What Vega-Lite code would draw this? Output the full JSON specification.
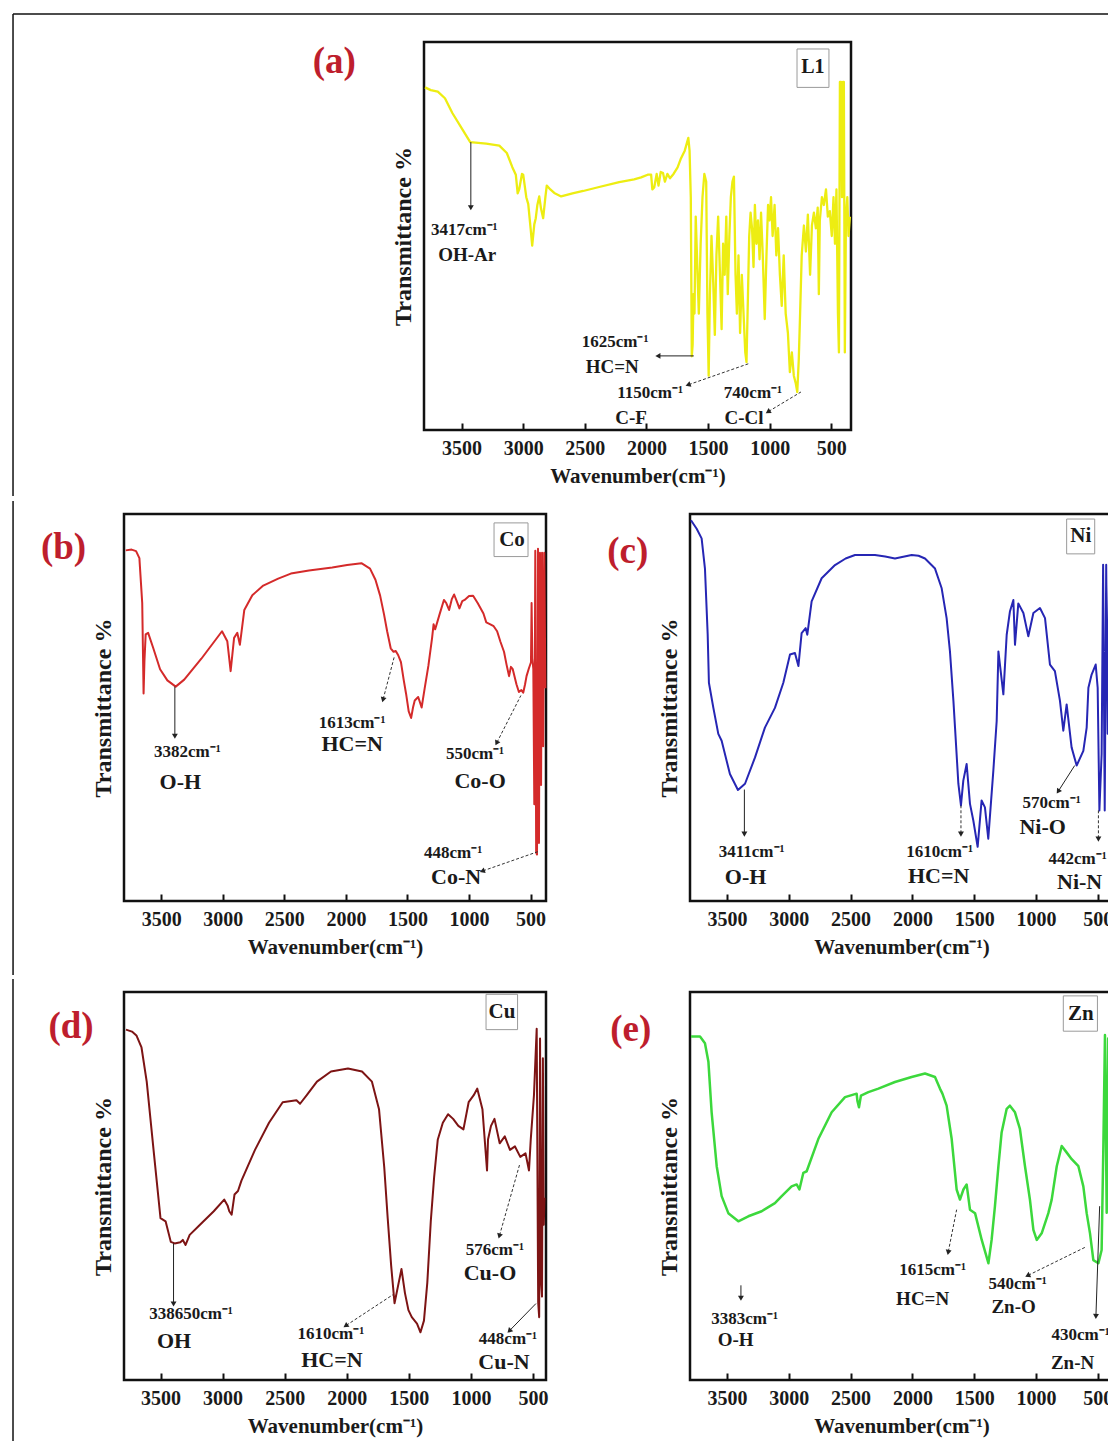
{
"$schema": "https://vega.github.io/schema/vega-lite/v6.json",
"background": "white",
"padding": {"left": 11, "top": 12, "right": 0, "bottom": 0},
"config": {
 "view": {"stroke": "#111", "strokeWidth": 2.5},
 "axis": {"grid": false, "labelFont": "Liberation Serif", "titleFont": "Liberation Serif", "labelFontWeight": "bold", "titleFontWeight": "bold", "labelColor": "#1a1a1a", "titleColor": "#1a1a1a"},
 "axisX": {"labelFontSize": 20, "titleFontSize": 21, "tickSize": -7, "tickWidth": 2, "tickColor": "#111", "domain": false, "labelPadding": 15, "titlePadding": 7, "labelFlush": false, "format": "d"},
 "axisY": {"titleFontSize": 24, "titlePadding": 9, "labels": false, "ticks": false, "domain": false},
 "text": {"font": "Liberation Serif", "fontWeight": "bold", "color": "#1a1a1a", "baseline": "middle", "align": "center"}
},
"datasets": {
 "L1": [{"wn":3797,"T":88.3},{"wn":3750,"T":87.6},{"wn":3693,"T":87.2},{"wn":3635,"T":85.5},{"wn":3575,"T":81.7},{"wn":3486,"T":77.1},{"wn":3430,"T":74.2},{"wn":3300,"T":73.8},{"wn":3194,"T":73.3},{"wn":3133,"T":71.4},{"wn":3089,"T":67.8},{"wn":3060,"T":65.8},{"wn":3045,"T":61},{"wn":3032,"T":62.1},{"wn":3010,"T":66},{"wn":3000,"T":65.8},{"wn":2975,"T":60},{"wn":2959,"T":58.2},{"wn":2940,"T":52},{"wn":2927,"T":47.5},{"wn":2910,"T":53},{"wn":2898,"T":54.6},{"wn":2885,"T":58},{"wn":2870,"T":60.2},{"wn":2855,"T":57},{"wn":2838,"T":54.6},{"wn":2820,"T":60},{"wn":2809,"T":63},{"wn":2780,"T":62},{"wn":2748,"T":61.1},{"wn":2692,"T":60.2},{"wn":2600,"T":61},{"wn":2513,"T":61.6},{"wn":2400,"T":62.5},{"wn":2221,"T":63.9},{"wn":2100,"T":64.6},{"wn":2043,"T":65.1},{"wn":1990,"T":65.8},{"wn":1962,"T":65.8},{"wn":1952,"T":62},{"wn":1937,"T":62.5},{"wn":1917,"T":66},{"wn":1902,"T":63},{"wn":1884,"T":66.5},{"wn":1865,"T":66.2},{"wn":1850,"T":64},{"wn":1830,"T":66},{"wn":1809,"T":64.9},{"wn":1780,"T":66},{"wn":1747,"T":67.7},{"wn":1720,"T":70},{"wn":1689,"T":72},{"wn":1660,"T":75.3},{"wn":1650,"T":72},{"wn":1640,"T":60},{"wn":1632,"T":19},{"wn":1625,"T":22},{"wn":1618,"T":35},{"wn":1610,"T":30},{"wn":1600,"T":55},{"wn":1590,"T":45},{"wn":1575,"T":30},{"wn":1560,"T":48},{"wn":1545,"T":60},{"wn":1530,"T":66},{"wn":1515,"T":64},{"wn":1505,"T":30},{"wn":1495,"T":14},{"wn":1485,"T":35},{"wn":1472,"T":50},{"wn":1458,"T":38},{"wn":1445,"T":24.5},{"wn":1432,"T":45},{"wn":1418,"T":55},{"wn":1403,"T":40},{"wn":1390,"T":26},{"wn":1378,"T":48},{"wn":1365,"T":40},{"wn":1352,"T":55},{"wn":1340,"T":35},{"wn":1327,"T":50},{"wn":1315,"T":60},{"wn":1302,"T":64},{"wn":1290,"T":65.3},{"wn":1277,"T":40},{"wn":1266,"T":30},{"wn":1253,"T":45},{"wn":1240,"T":25},{"wn":1226,"T":40},{"wn":1212,"T":30},{"wn":1198,"T":20},{"wn":1188,"T":17.5},{"wn":1176,"T":35},{"wn":1166,"T":50},{"wn":1155,"T":56},{"wn":1143,"T":52},{"wn":1131,"T":42},{"wn":1120,"T":58},{"wn":1107,"T":48},{"wn":1095,"T":54},{"wn":1082,"T":44},{"wn":1070,"T":56},{"wn":1056,"T":45},{"wn":1040,"T":28.6},{"wn":1026,"T":45},{"wn":1013,"T":58},{"wn":1001,"T":54},{"wn":989,"T":60},{"wn":976,"T":50},{"wn":960,"T":58},{"wn":946,"T":45},{"wn":932,"T":52},{"wn":917,"T":40},{"wn":902,"T":32},{"wn":886,"T":45},{"wn":870,"T":30},{"wn":852,"T":25},{"wn":836,"T":14.9},{"wn":820,"T":20},{"wn":804,"T":14},{"wn":788,"T":12},{"wn":776,"T":9.8},{"wn":764,"T":18},{"wn":753,"T":30},{"wn":740,"T":45},{"wn":722,"T":52.7},{"wn":706,"T":46},{"wn":690,"T":55.5},{"wn":672,"T":40},{"wn":657,"T":52.7},{"wn":641,"T":56},{"wn":625,"T":52},{"wn":610,"T":57.3},{"wn":601,"T":35},{"wn":593,"T":54},{"wn":576,"T":60},{"wn":560,"T":58},{"wn":543,"T":62},{"wn":528,"T":55},{"wn":512,"T":56.4},{"wn":496,"T":50},{"wn":482,"T":60},{"wn":470,"T":48},{"wn":458,"T":62},{"wn":446,"T":30},{"wn":438,"T":20},{"wn":430,"T":89.7},{"wn":421,"T":89.7},{"wn":413,"T":60},{"wn":405,"T":89.7},{"wn":398,"T":89.7},{"wn":390,"T":20},{"wn":381,"T":55},{"wn":370,"T":60},{"wn":360,"T":50},{"wn":349,"T":55}],
 "Co": [{"wn":3788,"T":90.6},{"wn":3740,"T":90.8},{"wn":3704,"T":90.4},{"wn":3677,"T":88.6},{"wn":3660,"T":80},{"wn":3654,"T":77},{"wn":3646,"T":60},{"wn":3643,"T":53.6},{"wn":3636,"T":62},{"wn":3626,"T":68.9},{"wn":3606,"T":69.3},{"wn":3564,"T":65.3},{"wn":3509,"T":59.9},{"wn":3450,"T":57},{"wn":3382,"T":55.4},{"wn":3313,"T":57.2},{"wn":3174,"T":62.6},{"wn":3006,"T":69.7},{"wn":2963,"T":67.1},{"wn":2936,"T":59.4},{"wn":2908,"T":68},{"wn":2882,"T":69.3},{"wn":2861,"T":66.2},{"wn":2825,"T":75.2},{"wn":2760,"T":79},{"wn":2671,"T":81.5},{"wn":2550,"T":83.3},{"wn":2447,"T":84.6},{"wn":2300,"T":85.4},{"wn":2111,"T":86.2},{"wn":1990,"T":86.8},{"wn":1874,"T":87.3},{"wn":1804,"T":85.9},{"wn":1760,"T":83},{"wn":1722,"T":78.9},{"wn":1690,"T":74},{"wn":1665,"T":69.7},{"wn":1636,"T":65.3},{"wn":1613,"T":64.4},{"wn":1595,"T":64.6},{"wn":1575,"T":63.5},{"wn":1553,"T":61.7},{"wn":1530,"T":57},{"wn":1511,"T":53.5},{"wn":1490,"T":49},{"wn":1470,"T":47.3},{"wn":1455,"T":50},{"wn":1441,"T":51.8},{"wn":1413,"T":52.7},{"wn":1395,"T":51},{"wn":1385,"T":50},{"wn":1360,"T":55},{"wn":1330,"T":60.8},{"wn":1300,"T":68},{"wn":1288,"T":71.5},{"wn":1275,"T":70.2},{"wn":1240,"T":74},{"wn":1204,"T":77.8},{"wn":1185,"T":77},{"wn":1162,"T":75.2},{"wn":1140,"T":78},{"wn":1121,"T":79.2},{"wn":1100,"T":77.5},{"wn":1078,"T":75.6},{"wn":1055,"T":77.5},{"wn":1036,"T":77.8},{"wn":1000,"T":78.8},{"wn":967,"T":78.9},{"wn":930,"T":77},{"wn":883,"T":74.3},{"wn":860,"T":72},{"wn":827,"T":71.5},{"wn":800,"T":71},{"wn":772,"T":69.7},{"wn":745,"T":67},{"wn":716,"T":64.4},{"wn":695,"T":61},{"wn":675,"T":58.1},{"wn":660,"T":60.5},{"wn":645,"T":59.9},{"wn":615,"T":56},{"wn":595,"T":54},{"wn":575,"T":54.5},{"wn":560,"T":53.8},{"wn":545,"T":56},{"wn":533,"T":58.1},{"wn":515,"T":60},{"wn":497,"T":61.7},{"wn":492,"T":77},{"wn":486,"T":62.7},{"wn":478,"T":60},{"wn":470,"T":25},{"wn":462,"T":90.5},{"wn":455,"T":12.5},{"wn":448,"T":12},{"wn":440,"T":91},{"wn":432,"T":15},{"wn":424,"T":90},{"wn":415,"T":30},{"wn":407,"T":90},{"wn":398,"T":40},{"wn":389,"T":90},{"wn":380,"T":55}],
 "Ni": [{"wn":3791,"T":98.4},{"wn":3745,"T":96.2},{"wn":3705,"T":93.7},{"wn":3678,"T":85.9},{"wn":3656,"T":68.9},{"wn":3646,"T":56.4},{"wn":3610,"T":49.9},{"wn":3570,"T":43.2},{"wn":3543,"T":41.4},{"wn":3476,"T":32.8},{"wn":3411,"T":28.7},{"wn":3354,"T":30.3},{"wn":3273,"T":37.1},{"wn":3193,"T":44.8},{"wn":3112,"T":49.9},{"wn":3044,"T":56.4},{"wn":2990,"T":63.7},{"wn":2950,"T":64.1},{"wn":2922,"T":60.7},{"wn":2896,"T":69.2},{"wn":2863,"T":70.5},{"wn":2850,"T":68.8},{"wn":2815,"T":77.4},{"wn":2734,"T":83.4},{"wn":2626,"T":86.8},{"wn":2540,"T":88.5},{"wn":2464,"T":89.4},{"wn":2303,"T":89.4},{"wn":2220,"T":89},{"wn":2141,"T":88.5},{"wn":2006,"T":89.4},{"wn":1950,"T":89.2},{"wn":1898,"T":88.5},{"wn":1817,"T":85.9},{"wn":1763,"T":80.8},{"wn":1723,"T":73.1},{"wn":1696,"T":64.5},{"wn":1668,"T":51.7},{"wn":1655,"T":44.8},{"wn":1628,"T":30.3},{"wn":1607,"T":24.7},{"wn":1588,"T":31.1},{"wn":1561,"T":35.4},{"wn":1534,"T":25.1},{"wn":1507,"T":20.8},{"wn":1472,"T":14},{"wn":1440,"T":26},{"wn":1413,"T":24.2},{"wn":1386,"T":16.1},{"wn":1345,"T":33.7},{"wn":1318,"T":46.5},{"wn":1304,"T":64.5},{"wn":1264,"T":53.4},{"wn":1237,"T":68.8},{"wn":1211,"T":74.8},{"wn":1183,"T":77.8},{"wn":1170,"T":66.2},{"wn":1143,"T":76.9},{"wn":1102,"T":74.4},{"wn":1062,"T":68.4},{"wn":1021,"T":74.4},{"wn":968,"T":75.7},{"wn":927,"T":73.1},{"wn":887,"T":61.1},{"wn":847,"T":59.4},{"wn":806,"T":51.7},{"wn":779,"T":44},{"wn":752,"T":50.8},{"wn":712,"T":39.7},{"wn":671,"T":35},{"wn":617,"T":38.8},{"wn":590,"T":44.8},{"wn":576,"T":55.1},{"wn":550,"T":58.5},{"wn":517,"T":61.1},{"wn":501,"T":55.1},{"wn":487,"T":23.4},{"wn":469,"T":38},{"wn":457,"T":86.9},{"wn":444,"T":23.4},{"wn":432,"T":86.9},{"wn":420,"T":43.2},{"wn":408,"T":86.9},{"wn":396,"T":51.7},{"wn":380,"T":77}],
 "Cu": [{"wn":3778,"T":90.3},{"wn":3730,"T":89.8},{"wn":3694,"T":88.8},{"wn":3653,"T":85.7},{"wn":3611,"T":76.9},{"wn":3556,"T":59.3},{"wn":3500,"T":41.7},{"wn":3459,"T":40.9},{"wn":3417,"T":35.6},{"wn":3386,"T":35.2},{"wn":3340,"T":35.5},{"wn":3320,"T":36.1},{"wn":3298,"T":34.8},{"wn":3265,"T":37.4},{"wn":3182,"T":40},{"wn":3071,"T":43.5},{"wn":2987,"T":46.5},{"wn":2960,"T":45},{"wn":2946,"T":43.5},{"wn":2927,"T":42.6},{"wn":2904,"T":47.8},{"wn":2876,"T":48.7},{"wn":2848,"T":51.4},{"wn":2739,"T":59.3},{"wn":2626,"T":66.3},{"wn":2516,"T":71.6},{"wn":2405,"T":72.1},{"wn":2376,"T":71.2},{"wn":2322,"T":73.4},{"wn":2240,"T":76.9},{"wn":2127,"T":79.5},{"wn":1990,"T":80.3},{"wn":1877,"T":79.5},{"wn":1797,"T":76.9},{"wn":1740,"T":69.8},{"wn":1698,"T":54.9},{"wn":1670,"T":41.7},{"wn":1642,"T":29.4},{"wn":1615,"T":19.8},{"wn":1587,"T":24.2},{"wn":1559,"T":28.6},{"wn":1531,"T":22.4},{"wn":1503,"T":18},{"wn":1476,"T":16.2},{"wn":1434,"T":14.5},{"wn":1406,"T":12.3},{"wn":1378,"T":15.3},{"wn":1351,"T":25.1},{"wn":1323,"T":40.9},{"wn":1296,"T":52.3},{"wn":1267,"T":61.9},{"wn":1226,"T":66.3},{"wn":1184,"T":68.5},{"wn":1143,"T":67.3},{"wn":1101,"T":65.5},{"wn":1060,"T":64.6},{"wn":1018,"T":71.6},{"wn":977,"T":73.4},{"wn":949,"T":75.1},{"wn":907,"T":69.8},{"wn":870,"T":54},{"wn":862,"T":62},{"wn":838,"T":65.5},{"wn":810,"T":67.3},{"wn":768,"T":61},{"wn":727,"T":62.8},{"wn":685,"T":59.3},{"wn":645,"T":60.2},{"wn":602,"T":57.5},{"wn":560,"T":58.4},{"wn":532,"T":54},{"wn":518,"T":61.9},{"wn":492,"T":73.4},{"wn":470,"T":90.5},{"wn":458,"T":20},{"wn":450,"T":16.2},{"wn":443,"T":88},{"wn":434,"T":25},{"wn":427,"T":21.5},{"wn":420,"T":82.9},{"wn":413,"T":40},{"wn":407,"T":47}],
 "Zn": [{"wn":3791,"T":88.5},{"wn":3718,"T":88.5},{"wn":3678,"T":86.8},{"wn":3650,"T":82},{"wn":3624,"T":69},{"wn":3583,"T":55.1},{"wn":3543,"T":47.4},{"wn":3489,"T":43},{"wn":3408,"T":40.9},{"wn":3327,"T":42.2},{"wn":3219,"T":43.5},{"wn":3112,"T":45.6},{"wn":3057,"T":47.4},{"wn":2977,"T":49.9},{"wn":2936,"T":50.4},{"wn":2914,"T":49.1},{"wn":2882,"T":53.4},{"wn":2855,"T":53.8},{"wn":2761,"T":62.1},{"wn":2653,"T":69},{"wn":2545,"T":72.9},{"wn":2451,"T":73.8},{"wn":2445,"T":72},{"wn":2432,"T":70.3},{"wn":2416,"T":73.3},{"wn":2356,"T":74.2},{"wn":2275,"T":75.1},{"wn":2141,"T":76.8},{"wn":2006,"T":78.1},{"wn":1898,"T":79},{"wn":1817,"T":78.1},{"wn":1777,"T":75.1},{"wn":1757,"T":73.8},{"wn":1723,"T":70.7},{"wn":1682,"T":62.1},{"wn":1642,"T":49.1},{"wn":1615,"T":46.5},{"wn":1587,"T":49.1},{"wn":1561,"T":50.4},{"wn":1534,"T":43.9},{"wn":1493,"T":43},{"wn":1439,"T":36.1},{"wn":1385,"T":30.1},{"wn":1359,"T":36.1},{"wn":1332,"T":44.8},{"wn":1304,"T":55.1},{"wn":1278,"T":63.8},{"wn":1237,"T":69.9},{"wn":1211,"T":70.7},{"wn":1170,"T":69},{"wn":1130,"T":64.7},{"wn":1089,"T":55.1},{"wn":1049,"T":46.5},{"wn":1021,"T":38.7},{"wn":994,"T":36.1},{"wn":954,"T":37.8},{"wn":900,"T":43},{"wn":873,"T":46.5},{"wn":832,"T":55.1},{"wn":792,"T":60.3},{"wn":751,"T":58.6},{"wn":711,"T":56.9},{"wn":657,"T":55.1},{"wn":617,"T":49.9},{"wn":590,"T":43},{"wn":563,"T":37.8},{"wn":536,"T":30.9},{"wn":495,"T":30.1},{"wn":469,"T":33.5},{"wn":455,"T":60.3},{"wn":442,"T":88.9},{"wn":428,"T":43.1},{"wn":416,"T":88},{"wn":404,"T":46.5},{"wn":388,"T":83}],
 "vals": [
  {"p":"a","wn":3478,"T":51.5,"text":"3417cm⁻¹"},{"p":"a","wn":2254,"T":22.7,"text":"1625cm⁻¹"},{"p":"a","wn":1970,"T":9.5,"text":"1150cm⁻¹"},{"p":"a","wn":1135,"T":9.5,"text":"740cm⁻¹"},
  {"p":"b","wn":3287,"T":38.6,"text":"3382cm⁻¹"},{"p":"b","wn":1949,"T":46,"text":"1613cm⁻¹"},{"p":"b","wn":951,"T":37.9,"text":"550cm⁻¹"},{"p":"b","wn":1129,"T":12.5,"text":"448cm⁻¹"},
  {"p":"c","wn":3300,"T":12.6,"text":"3411cm⁻¹"},{"p":"c","wn":1779,"T":12.6,"text":"1610cm⁻¹"},{"p":"c","wn":873,"T":25.4,"text":"570cm⁻¹"},{"p":"c","wn":663,"T":10.8,"text":"442cm⁻¹"},
  {"p":"d","wn":3254,"T":16.9,"text":"338650cm⁻¹"},{"p":"d","wn":2127,"T":11.8,"text":"1610cm⁻¹"},{"p":"d","wn":806,"T":33.5,"text":"576cm⁻¹"},{"p":"d","wn":701,"T":10.5,"text":"448cm⁻¹"},
  {"p":"e","wn":3357,"T":15.6,"text":"3383cm⁻¹"},{"p":"e","wn":1836,"T":28.3,"text":"1615cm⁻¹"},{"p":"e","wn":1148,"T":24.7,"text":"540cm⁻¹"},{"p":"e","wn":639,"T":11.7,"text":"430cm⁻¹"}],
 "names": [
  {"p":"a","wn":3454,"T":45.1,"text":"OH-Ar"},{"p":"a","wn":2278,"T":16.2,"text":"HC=N"},{"p":"a","wn":2124,"T":3.1,"text":"C-F"},{"p":"a","wn":1208,"T":3.1,"text":"C-Cl"},
  {"p":"b","wn":3344,"T":30.8,"text":"O-H"},{"p":"b","wn":1949,"T":40.5,"text":"HC=N"},{"p":"b","wn":910,"T":31.1,"text":"Co-O"},{"p":"b","wn":1105,"T":6.3,"text":"Co-N"},
  {"p":"c","wn":3349,"T":6.2,"text":"O-H"},{"p":"c","wn":1787,"T":6.4,"text":"HC=N"},{"p":"c","wn":946,"T":19,"text":"Ni-O"},{"p":"c","wn":647,"T":4.9,"text":"Ni-N"},
  {"p":"d","wn":3391,"T":10,"text":"OH"},{"p":"d","wn":2119,"T":5.1,"text":"HC=N"},{"p":"d","wn":846,"T":27.6,"text":"Cu-O"},{"p":"d","wn":733,"T":4.6,"text":"Cu-N"},
  {"p":"e","wn":3430,"T":10.4,"text":"O-H"},{"p":"e","wn":1917,"T":20.8,"text":"HC=N"},{"p":"e","wn":1181,"T":18.7,"text":"Zn-O"},{"p":"e","wn":704,"T":4.4,"text":"Zn-N"}],
 "legend": [{"p":"a","wn":650,"T":93.6,"text":"L1"},{"p":"b","wn":651,"T":93.2,"text":"Co"},{"p":"c","wn":638,"T":94.3,"text":"Ni"},{"p":"d","wn":750,"T":94.9,"text":"Cu"},{"p":"e","wn":638,"T":94.3,"text":"Zn"}],
 "boxes": [{"p":"a","wn":778,"T":98.2,"wn0":519,"T0":88.3},{"p":"b","wn":797,"T":97.7,"wn0":521,"T0":89},{"p":"c","wn":752,"T":98.7,"wn0":525,"T0":89.7},{"p":"d","wn":878,"T":99.4,"wn0":624,"T0":90.3},{"p":"e","wn":779,"T":99,"wn0":503,"T0":89.9}],
 "tags": [{"p":"a","wn":4533,"T":94.8,"text":"(a)"},{"p":"b","wn":4293,"T":91.1,"text":"(b)"},{"p":"c","wn":4303,"T":90.2,"text":"(c)"},{"p":"d","wn":4221,"T":91,"text":"(d)"},{"p":"e","wn":4279,"T":90.1,"text":"(e)"}],
 "solid": [
  {"p":"a","wn":3425,"T":57.5,"wn0":3425,"T0":74.2,"ang":180},{"p":"a","wn":1900,"T":19.1,"wn0":1616,"T0":19.1,"ang":270},
  {"p":"b","wn":3389,"T":42.8,"wn0":3389,"T0":55.4,"ang":180},
  {"p":"c","wn":3359,"T":17.5,"wn0":3359,"T0":28.8,"ang":180},{"p":"c","wn":817,"T":28.5,"wn0":687,"T0":35,"ang":213},
  {"p":"d","wn":3395,"T":19.8,"wn0":3395,"T0":35.2,"ang":180},{"p":"d","wn":686,"T":12.8,"wn0":476,"T0":19.7,"ang":224},
  {"p":"e","wn":3387,"T":21.3,"wn0":3387,"T0":24.4,"ang":180},{"p":"e","wn":515,"T":16.6,"wn0":485,"T0":44.8,"ang":182}],
 "dashed": [
  {"p":"a","wn":1656,"T":11.7,"wn0":1170,"T0":17.1,"ang":251},{"p":"a","wn":1008,"T":4.8,"wn0":746,"T0":9.8,"ang":239},
  {"p":"b","wn":1697,"T":52.2,"wn0":1608,"T0":63,"ang":195},{"p":"b","wn":773,"T":41,"wn0":579,"T0":53.1,"ang":207},{"p":"b","wn":886,"T":7.8,"wn0":436,"T0":12.8,"ang":251},
  {"p":"c","wn":1607,"T":17.5,"wn0":1607,"T0":24.7,"ang":180},{"p":"c","wn":495,"T":16.2,"wn0":495,"T0":23.4,"ang":180},
  {"p":"d","wn":2003,"T":14.1,"wn0":1627,"T0":22,"ang":236},{"p":"d","wn":769,"T":37.3,"wn0":605,"T0":55.8,"ang":196},
  {"p":"e","wn":1709,"T":33.1,"wn0":1642,"T0":43.9,"ang":191},{"p":"e","wn":1062,"T":27,"wn0":590,"T0":34.4,"ang":244}],
 "frameA": [{"wn":7140,"T":107.2,"wn0":-1795,"T0":107.2},{"wn":7140,"T":107.2,"wn0":7140,"T0":-17.01}],
 "frameB": [{"wn":4703,"T":103.36,"wn0":4703,"T0":-19.12}],
 "frameD": [{"wn":4688,"T":103.35,"wn0":4688,"T0":-20.36}]
},
"vconcat": [
 {"hconcat": [
  {"width": 300, "height": 388, "data": {"values": []}, "mark": "point", "view": {"stroke": null}},
  {"width": 427, "height": 388,
   "encoding": {
    "x": {"field": "wn", "type": "quantitative", "scale": {"domain": [340, 3805], "reverse": true, "nice": false, "zero": false}, "axis": {"title": "Wavenumber(cm⁻¹)", "values": [3500,3000,2500,2000,1500,1000,500]}},
    "y": {"field": "T", "type": "quantitative", "scale": {"domain": [0, 100], "nice": false, "zero": false}, "axis": {"title": "Transmittance %"}}
   },
   "layer": [
    {"data": {"name": "L1"}, "mark": {"type": "line", "color": "#eded12", "strokeWidth": 2.3, "strokeJoin": "round"}},
    {"data": {"name": "boxes"}, "transform": [{"filter": "datum.p == 'a'"}], "mark": {"type": "rect", "fillOpacity": 0, "stroke": "#9a9a9a", "strokeWidth": 1}, "encoding": {"x2": {"field": "wn0"}, "y2": {"field": "T0"}}},
    {"data": {"name": "legend"}, "transform": [{"filter": "datum.p == 'a'"}], "mark": {"type": "text", "fontSize": 20}, "encoding": {"text": {"field": "text"}}},
    {"data": {"name": "vals"}, "transform": [{"filter": "datum.p == 'a'"}], "mark": {"type": "text", "fontSize": 17}, "encoding": {"text": {"field": "text"}}},
    {"data": {"name": "names"}, "transform": [{"filter": "datum.p == 'a'"}], "mark": {"type": "text", "fontSize": 19}, "encoding": {"text": {"field": "text"}}},
    {"data": {"name": "tags"}, "transform": [{"filter": "datum.p == 'a'"}], "mark": {"type": "text", "fontSize": 37, "color": "#be1e2d", "clip": false}, "encoding": {"text": {"field": "text"}}},
    {"data": {"name": "solid"}, "transform": [{"filter": "datum.p == 'a'"}], "mark": {"type": "rule", "color": "#222", "strokeWidth": 1}, "encoding": {"x2": {"field": "wn0"}, "y2": {"field": "T0"}}},
    {"data": {"name": "dashed"}, "transform": [{"filter": "datum.p == 'a'"}], "mark": {"type": "rule", "color": "#333", "strokeWidth": 1, "strokeDash": [3, 2]}, "encoding": {"x2": {"field": "wn0"}, "y2": {"field": "T0"}}},
    {"data": {"name": "solid"}, "transform": [{"filter": "datum.p == 'a'"}], "mark": {"type": "point", "shape": "triangle", "filled": true, "size": 35, "color": "#222", "opacity": 1, "strokeWidth": 0}, "encoding": {"angle": {"field": "ang", "type": "quantitative", "scale": null}}},
    {"data": {"name": "dashed"}, "transform": [{"filter": "datum.p == 'a'"}], "mark": {"type": "point", "shape": "triangle", "filled": true, "size": 35, "color": "#222", "opacity": 1, "strokeWidth": 0}, "encoding": {"angle": {"field": "ang", "type": "quantitative", "scale": null}}},
    {"data": {"name": "frameA"}, "mark": {"type": "rule", "color": "#111", "strokeWidth": 1.5, "clip": false}, "encoding": {"x2": {"field": "wn0"}, "y2": {"field": "T0"}}}
   ]}
 ], "spacing": 0, "bounds": "flush"},
  {"hconcat": [
   {"width": 422, "height": 387,
    "encoding": {
     "x": {"field": "wn", "type": "quantitative", "scale": {"domain": [375, 3802], "reverse": true, "nice": false, "zero": false}, "axis": {"title": "Wavenumber(cm⁻¹)", "values": [3500,3000,2500,2000,1500,1000,500]}},
     "y": {"field": "T", "type": "quantitative", "scale": {"domain": [0, 100], "nice": false, "zero": false}, "axis": {"title": "Transmittance %"}}
    },
    "layer": [
     {"data": {"name": "Co"}, "mark": {"type": "line", "color": "#d42a2a", "strokeWidth": 2, "strokeJoin": "round"}},
     {"data": {"name": "boxes"}, "transform": [{"filter": "datum.p == 'b'"}], "mark": {"type": "rect", "fillOpacity": 0, "stroke": "#9a9a9a", "strokeWidth": 1}, "encoding": {"x2": {"field": "wn0"}, "y2": {"field": "T0"}}},
     {"data": {"name": "legend"}, "transform": [{"filter": "datum.p == 'b'"}], "mark": {"type": "text", "fontSize": 21}, "encoding": {"text": {"field": "text"}}},
     {"data": {"name": "vals"}, "transform": [{"filter": "datum.p == 'b'"}], "mark": {"type": "text", "fontSize": 17}, "encoding": {"text": {"field": "text"}}},
     {"data": {"name": "names"}, "transform": [{"filter": "datum.p == 'b'"}], "mark": {"type": "text", "fontSize": 22}, "encoding": {"text": {"field": "text"}}},
     {"data": {"name": "tags"}, "transform": [{"filter": "datum.p == 'b'"}], "mark": {"type": "text", "fontSize": 37, "color": "#be1e2d", "clip": false}, "encoding": {"text": {"field": "text"}}},
     {"data": {"name": "solid"}, "transform": [{"filter": "datum.p == 'b'"}], "mark": {"type": "rule", "color": "#222", "strokeWidth": 1}, "encoding": {"x2": {"field": "wn0"}, "y2": {"field": "T0"}}},
     {"data": {"name": "dashed"}, "transform": [{"filter": "datum.p == 'b'"}], "mark": {"type": "rule", "color": "#333", "strokeWidth": 1, "strokeDash": [3, 2]}, "encoding": {"x2": {"field": "wn0"}, "y2": {"field": "T0"}}},
     {"data": {"name": "solid"}, "transform": [{"filter": "datum.p == 'b'"}], "mark": {"type": "point", "shape": "triangle", "filled": true, "size": 35, "color": "#222", "opacity": 1, "strokeWidth": 0}, "encoding": {"angle": {"field": "ang", "type": "quantitative", "scale": null}}},
     {"data": {"name": "dashed"}, "transform": [{"filter": "datum.p == 'b'"}], "mark": {"type": "point", "shape": "triangle", "filled": true, "size": 35, "color": "#222", "opacity": 1, "strokeWidth": 0}, "encoding": {"angle": {"field": "ang", "type": "quantitative", "scale": null}}},
     {"data": {"name": "frameB"}, "mark": {"type": "rule", "color": "#111", "strokeWidth": 1.5, "clip": false}, "encoding": {"x2": {"field": "wn0"}, "y2": {"field": "T0"}}}
    ]},
   {"width": 423, "height": 387,
    "encoding": {
     "x": {"field": "wn", "type": "quantitative", "scale": {"domain": [377, 3799], "reverse": true, "nice": false, "zero": false}, "axis": {"title": "Wavenumber(cm⁻¹)", "values": [3500,3000,2500,2000,1500,1000,500]}},
     "y": {"field": "T", "type": "quantitative", "scale": {"domain": [0, 100], "nice": false, "zero": false}, "axis": {"title": "Transmittance %"}}
    },
    "layer": [
     {"data": {"name": "Ni"}, "mark": {"type": "line", "color": "#2626b4", "strokeWidth": 2, "strokeJoin": "round"}},
     {"data": {"name": "boxes"}, "transform": [{"filter": "datum.p == 'c'"}], "mark": {"type": "rect", "fillOpacity": 0, "stroke": "#9a9a9a", "strokeWidth": 1}, "encoding": {"x2": {"field": "wn0"}, "y2": {"field": "T0"}}},
     {"data": {"name": "legend"}, "transform": [{"filter": "datum.p == 'c'"}], "mark": {"type": "text", "fontSize": 21}, "encoding": {"text": {"field": "text"}}},
     {"data": {"name": "vals"}, "transform": [{"filter": "datum.p == 'c'"}], "mark": {"type": "text", "fontSize": 17}, "encoding": {"text": {"field": "text"}}},
     {"data": {"name": "names"}, "transform": [{"filter": "datum.p == 'c'"}], "mark": {"type": "text", "fontSize": 22}, "encoding": {"text": {"field": "text"}}},
     {"data": {"name": "tags"}, "transform": [{"filter": "datum.p == 'c'"}], "mark": {"type": "text", "fontSize": 37, "color": "#be1e2d", "clip": false}, "encoding": {"text": {"field": "text"}}},
     {"data": {"name": "solid"}, "transform": [{"filter": "datum.p == 'c'"}], "mark": {"type": "rule", "color": "#222", "strokeWidth": 1}, "encoding": {"x2": {"field": "wn0"}, "y2": {"field": "T0"}}},
     {"data": {"name": "dashed"}, "transform": [{"filter": "datum.p == 'c'"}], "mark": {"type": "rule", "color": "#333", "strokeWidth": 1, "strokeDash": [3, 2]}, "encoding": {"x2": {"field": "wn0"}, "y2": {"field": "T0"}}},
     {"data": {"name": "solid"}, "transform": [{"filter": "datum.p == 'c'"}], "mark": {"type": "point", "shape": "triangle", "filled": true, "size": 35, "color": "#222", "opacity": 1, "strokeWidth": 0}, "encoding": {"angle": {"field": "ang", "type": "quantitative", "scale": null}}},
     {"data": {"name": "dashed"}, "transform": [{"filter": "datum.p == 'c'"}], "mark": {"type": "point", "shape": "triangle", "filled": true, "size": 35, "color": "#222", "opacity": 1, "strokeWidth": 0}, "encoding": {"angle": {"field": "ang", "type": "quantitative", "scale": null}}}
    ]}
  ], "spacing": 144, "bounds": "flush"},
  {"hconcat": [
   {"width": 422, "height": 388,
    "encoding": {
     "x": {"field": "wn", "type": "quantitative", "scale": {"domain": [395, 3794], "reverse": true, "nice": false, "zero": false}, "axis": {"title": "Wavenumber(cm⁻¹)", "values": [3500,3000,2500,2000,1500,1000,500]}},
     "y": {"field": "T", "type": "quantitative", "scale": {"domain": [0, 100], "nice": false, "zero": false}, "axis": {"title": "Transmittance %"}}
    },
    "layer": [
     {"data": {"name": "Cu"}, "mark": {"type": "line", "color": "#7d1414", "strokeWidth": 2, "strokeJoin": "round"}},
     {"data": {"name": "boxes"}, "transform": [{"filter": "datum.p == 'd'"}], "mark": {"type": "rect", "fillOpacity": 0, "stroke": "#9a9a9a", "strokeWidth": 1}, "encoding": {"x2": {"field": "wn0"}, "y2": {"field": "T0"}}},
     {"data": {"name": "legend"}, "transform": [{"filter": "datum.p == 'd'"}], "mark": {"type": "text", "fontSize": 21}, "encoding": {"text": {"field": "text"}}},
     {"data": {"name": "vals"}, "transform": [{"filter": "datum.p == 'd'"}], "mark": {"type": "text", "fontSize": 17}, "encoding": {"text": {"field": "text"}}},
     {"data": {"name": "names"}, "transform": [{"filter": "datum.p == 'd'"}], "mark": {"type": "text", "fontSize": 22}, "encoding": {"text": {"field": "text"}}},
     {"data": {"name": "tags"}, "transform": [{"filter": "datum.p == 'd'"}], "mark": {"type": "text", "fontSize": 37, "color": "#be1e2d", "clip": false}, "encoding": {"text": {"field": "text"}}},
     {"data": {"name": "solid"}, "transform": [{"filter": "datum.p == 'd'"}], "mark": {"type": "rule", "color": "#222", "strokeWidth": 1}, "encoding": {"x2": {"field": "wn0"}, "y2": {"field": "T0"}}},
     {"data": {"name": "dashed"}, "transform": [{"filter": "datum.p == 'd'"}], "mark": {"type": "rule", "color": "#333", "strokeWidth": 1, "strokeDash": [3, 2]}, "encoding": {"x2": {"field": "wn0"}, "y2": {"field": "T0"}}},
     {"data": {"name": "solid"}, "transform": [{"filter": "datum.p == 'd'"}], "mark": {"type": "point", "shape": "triangle", "filled": true, "size": 35, "color": "#222", "opacity": 1, "strokeWidth": 0}, "encoding": {"angle": {"field": "ang", "type": "quantitative", "scale": null}}},
     {"data": {"name": "dashed"}, "transform": [{"filter": "datum.p == 'd'"}], "mark": {"type": "point", "shape": "triangle", "filled": true, "size": 35, "color": "#222", "opacity": 1, "strokeWidth": 0}, "encoding": {"angle": {"field": "ang", "type": "quantitative", "scale": null}}},
     {"data": {"name": "frameD"}, "mark": {"type": "rule", "color": "#111", "strokeWidth": 1.5, "clip": false}, "encoding": {"x2": {"field": "wn0"}, "y2": {"field": "T0"}}}
    ]},
   {"width": 423, "height": 388,
    "encoding": {
     "x": {"field": "wn", "type": "quantitative", "scale": {"domain": [377, 3799], "reverse": true, "nice": false, "zero": false}, "axis": {"title": "Wavenumber(cm⁻¹)", "values": [3500,3000,2500,2000,1500,1000,500]}},
     "y": {"field": "T", "type": "quantitative", "scale": {"domain": [0, 100], "nice": false, "zero": false}, "axis": {"title": "Transmittance %"}}
    },
    "layer": [
     {"data": {"name": "Zn"}, "mark": {"type": "line", "color": "#3cd83c", "strokeWidth": 2.5, "strokeJoin": "round"}},
     {"data": {"name": "boxes"}, "transform": [{"filter": "datum.p == 'e'"}], "mark": {"type": "rect", "fillOpacity": 0, "stroke": "#9a9a9a", "strokeWidth": 1}, "encoding": {"x2": {"field": "wn0"}, "y2": {"field": "T0"}}},
     {"data": {"name": "legend"}, "transform": [{"filter": "datum.p == 'e'"}], "mark": {"type": "text", "fontSize": 21}, "encoding": {"text": {"field": "text"}}},
     {"data": {"name": "vals"}, "transform": [{"filter": "datum.p == 'e'"}], "mark": {"type": "text", "fontSize": 17}, "encoding": {"text": {"field": "text"}}},
     {"data": {"name": "names"}, "transform": [{"filter": "datum.p == 'e'"}], "mark": {"type": "text", "fontSize": 19}, "encoding": {"text": {"field": "text"}}},
     {"data": {"name": "tags"}, "transform": [{"filter": "datum.p == 'e'"}], "mark": {"type": "text", "fontSize": 37, "color": "#be1e2d", "clip": false}, "encoding": {"text": {"field": "text"}}},
     {"data": {"name": "solid"}, "transform": [{"filter": "datum.p == 'e'"}], "mark": {"type": "rule", "color": "#222", "strokeWidth": 1}, "encoding": {"x2": {"field": "wn0"}, "y2": {"field": "T0"}}},
     {"data": {"name": "dashed"}, "transform": [{"filter": "datum.p == 'e'"}], "mark": {"type": "rule", "color": "#333", "strokeWidth": 1, "strokeDash": [3, 2]}, "encoding": {"x2": {"field": "wn0"}, "y2": {"field": "T0"}}},
     {"data": {"name": "solid"}, "transform": [{"filter": "datum.p == 'e'"}], "mark": {"type": "point", "shape": "triangle", "filled": true, "size": 35, "color": "#222", "opacity": 1, "strokeWidth": 0}, "encoding": {"angle": {"field": "ang", "type": "quantitative", "scale": null}}},
     {"data": {"name": "dashed"}, "transform": [{"filter": "datum.p == 'e'"}], "mark": {"type": "point", "shape": "triangle", "filled": true, "size": 35, "color": "#222", "opacity": 1, "strokeWidth": 0}, "encoding": {"angle": {"field": "ang", "type": "quantitative", "scale": null}}}
    ]}
  ], "spacing": 144, "bounds": "flush"}
],
"spacing": 0
}
